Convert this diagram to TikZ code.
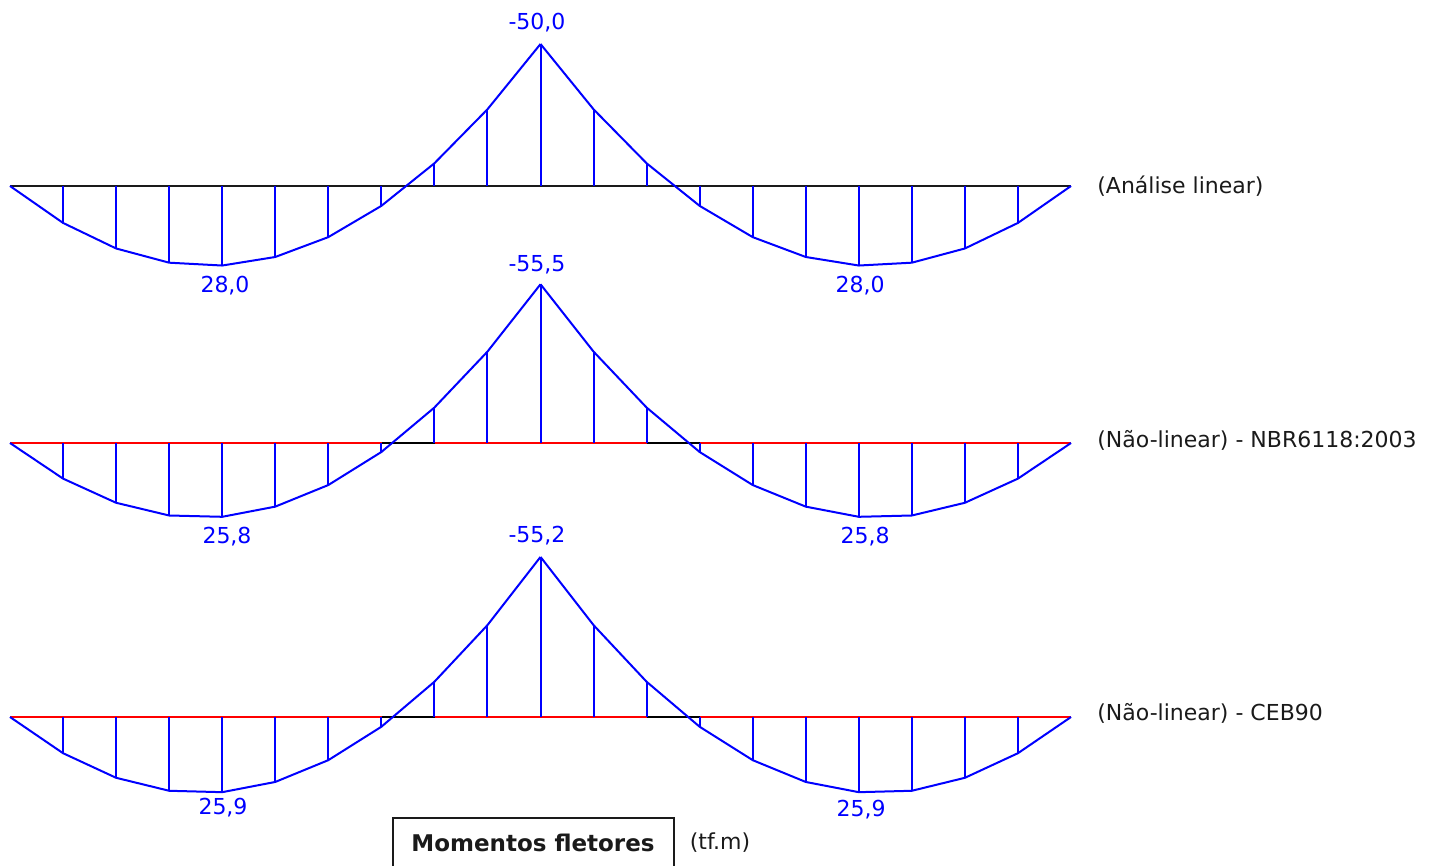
\documentclass[tikz,border=0pt]{standalone}
\usepackage{fontspec}
\setmainfont{DejaVu Sans}
\usepackage{xcolor}
\definecolor{momBlue}{RGB}{0,0,255}
\definecolor{axisRed}{RGB}{255,0,0}
\definecolor{txtDark}{HTML}{1A1A1A}

\begin{document}
\begin{tikzpicture}[x=0.5pt,y=-0.5pt,
  mom/.style={momBlue,line width=1pt,line join=round},
  axis/.style={line width=1.3pt},
  val/.style={text=momBlue,font=\fontsize{11}{13}\selectfont,inner sep=0pt},
  case/.style={text=txtDark,font=\fontsize{11}{13}\selectfont,inner sep=0pt,anchor=west}
]
\useasboundingbox (0,0) rectangle (1439,866);

% baselines
\draw[axis,txtDark] (10,186) -- (1071,186);
\foreach \yb in {443,717}{
  \draw[axis,axisRed] (10,\yb) -- (1071,\yb);
  \draw[axis,black] (382,\yb) -- (435,\yb);
  \draw[axis,black] (647,\yb) -- (700,\yb);
}

% moment diagrams: baseline / rho / scale
\foreach \yb/\rr/\sc in {186/0.375/2.84, 443/0.36125/2.86, 717/0.362/2.9}{
  \draw[mom] plot[domain=0:1,samples=11] ({10+530.5*\x},{\yb+\sc*400*(\rr*\x-\x*\x/2)});
  \draw[mom] plot[domain=0:1,samples=11] ({1071-530.5*\x},{\yb+\sc*400*(\rr*\x-\x*\x/2)});
  \foreach \i in {1,...,10}{
    \pgfmathsetmacro{\m}{\yb+\sc*400*(\rr*\i/10-\i*\i/200)}
    \draw[mom] ({10+53.05*\i},\yb) -- ({10+53.05*\i},\m);
    \draw[mom] ({1071-53.05*\i},\yb) -- ({1071-53.05*\i},\m);
  }
}

% values and cases
\node[val] (m1) at (537,23) {-50,0};
\node[val] (p1l) at (225,286) {28,0};
\node[val] (p1r) at (860,286) {28,0};
\node[case] (c1) at (1097,186) {(Análise linear)};
\node[val] (m2) at (537,265) {-55,5};
\node[val] (p2l) at (227,537) {25,8};
\node[val] (p2r) at (865,537) {25,8};
\node[case] (c2) at (1097,440) {(Não-linear) - NBR6118:2003};
\node[val] (m3) at (537,536) {-55,2};
\node[val] (p3l) at (223,808) {25,9};
\node[val] (p3r) at (861,810) {25,9};
\node[case] (c3) at (1097,713) {(Não-linear) - CEB90};

% title
\draw[txtDark,line width=0.8pt] (393,870) |- (674,818) -- (674,870);
\node[font=\bfseries\fontsize{11.5}{13}\selectfont,text=txtDark,inner sep=0pt] (title) at (533,843) {Momentos fletores};
\node[case,anchor=center] (unit) at (720,843) {(tf.m)};
\end{tikzpicture}
\end{document}
